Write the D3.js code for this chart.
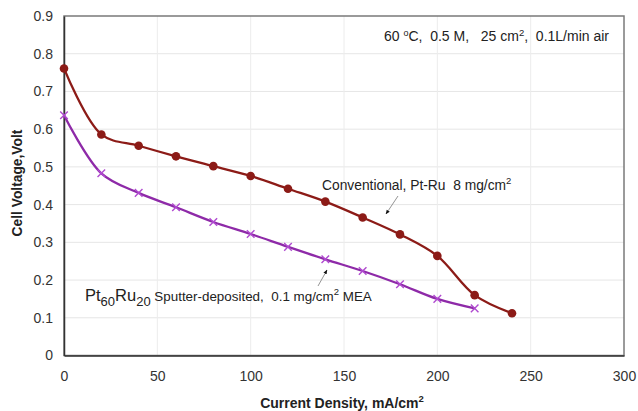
<!DOCTYPE html>
<html>
<head>
<meta charset="utf-8">
<script src="https://cdn.jsdelivr.net/npm/d3@7"></script>
<style>
  body { margin: 0; background: #fff; }
  svg { font-family: "Liberation Sans", Arial, sans-serif; }
</style>
</head>
<body>
<div id="chart"></div>
<script>
const width = 638
const height = 411

// data
const currentDensity = [0, 20, 40, 60, 80, 100, 120, 140, 160, 180, 200, 220, 240]
const conventionalVolt = [0.761, 0.586, 0.556, 0.528, 0.502, 0.476, 0.442, 0.408, 0.366, 0.321, 0.264, 0.160, 0.112]
const sputterDensity = [0, 20, 40, 60, 80, 100, 120, 140, 160, 180, 200, 220]
const sputterVolt = [0.637, 0.483, 0.431, 0.393, 0.354, 0.322, 0.288, 0.255, 0.224, 0.189, 0.150, 0.125]

const xTicks = [0, 50, 100, 150, 200, 250, 300]
const yTicks = [0, 0.1, 0.2, 0.3, 0.4, 0.5, 0.6, 0.7, 0.8, 0.9]

const conventionalColor = "#8c1b17"
const sputterColor = "#8e2aa8"
const sputterMarker = "#b04ad0"

const svg = d3.select("#chart").append("svg")
    .attr("width", width)
    .attr("height", height)

const x = d3.scaleLinear().domain([0, 300]).range([64, 624])
const y = d3.scaleLinear().domain([0, 0.9]).range([355.5, 16])

//grid lines
svg.append("g").selectAll("line.h")
    .data(yTicks.slice(1, -1))
    .join("line")
    .attr("x1", x(0)).attr("x2", x(300))
    .attr("y1", d => y(d)).attr("y2", d => y(d))
    .attr("stroke", "#e6e6e6").attr("stroke-width", 1)
svg.append("g").selectAll("line.v")
    .data(xTicks.slice(1, -1))
    .join("line")
    .attr("y1", y(0)).attr("y2", y(0.9))
    .attr("x1", d => x(d)).attr("x2", d => x(d))
    .attr("stroke", "#ececec").attr("stroke-width", 1)

//frame
svg.append("rect")
    .attr("x", x(0)).attr("y", y(0.9))
    .attr("width", x(300) - x(0)).attr("height", y(0) - y(0.9))
    .attr("fill", "none").attr("stroke", "#7a7a7a").attr("stroke-width", 1.5)

//axes
const xAxis = svg.append("g")
    .attr("transform", `translate(0,${y(0)})`)
    .call(d3.axisBottom(x).tickValues(xTicks).tickSize(0).tickPadding(16).tickFormat(d3.format("d")))
const yAxis = svg.append("g")
    .attr("transform", `translate(${x(0)},0)`)
    .call(d3.axisLeft(y).tickValues(yTicks).tickSize(0).tickPadding(11).tickFormat(d => d === 0 ? "0" : d3.format(".1f")(d)))
for (const ax of [xAxis, yAxis]) {
    ax.select(".domain").attr("stroke", "#333").attr("stroke-width", 1.5)
    ax.selectAll("text").attr("font-size", 14).attr("fill", "#333")
        .style("font-family", '"Liberation Sans", Arial, sans-serif')
}

//axis titles
const xTitle = svg.append("text")
    .attr("x", (x(0) + x(300)) / 2 - 2).attr("y", 408)
    .attr("text-anchor", "middle").attr("font-size", 14).attr("font-weight", "bold").attr("fill", "#222")
xTitle.append("tspan").text("Current Density, mA/cm")
xTitle.append("tspan").attr("dy", -6).attr("font-size", 9.5).text("2")

svg.append("text")
    .attr("transform", `translate(22,183) rotate(-90)`)
    .attr("text-anchor", "middle").attr("font-size", 13.8).attr("font-weight", "bold").attr("fill", "#222")
    .text("Cell Voltage,Volt")

//lines
const line = d3.line()
    .x(d => x(d[0])).y(d => y(d[1]))
    .curve(d3.curveCatmullRom.alpha(0.5))

const conventional = d3.zip(currentDensity, conventionalVolt)
const sputter = d3.zip(sputterDensity, sputterVolt)

svg.append("path").datum(sputter)
    .attr("d", line).attr("fill", "none")
    .attr("stroke", sputterColor).attr("stroke-width", 2.3)
svg.append("g").selectAll("path")
    .data(sputter)
    .join("path")
    .attr("d", d => {
        const cx = x(d[0]), cy = y(d[1]), r = 3.8
        return `M${cx - r},${cy - r}L${cx + r},${cy + r}M${cx - r},${cy + r}L${cx + r},${cy - r}`
    })
    .attr("stroke", sputterMarker).attr("stroke-width", 1.4)

svg.append("path").datum(conventional)
    .attr("d", line).attr("fill", "none")
    .attr("stroke", conventionalColor).attr("stroke-width", 2.3)
svg.append("g").selectAll("circle")
    .data(conventional)
    .join("circle")
    .attr("cx", d => x(d[0])).attr("cy", d => y(d[1]))
    .attr("r", 4.3).attr("fill", conventionalColor)

//condition label
const cond = svg.append("text")
    .attr("x", 609).attr("y", 41)
    .attr("text-anchor", "end").attr("font-size", 14).attr("fill", "#222")
    .attr("xml:space", "preserve")
cond.append("tspan").text("60 ")
cond.append("tspan").attr("dy", -5).attr("font-size", 9).text("o")
cond.append("tspan").attr("dy", 5).text("C,  0.5 M,   25 cm")
cond.append("tspan").attr("dy", -5).attr("font-size", 9.5).text("2")
cond.append("tspan").attr("dy", 5).text(",  0.1L/min air")

//series annotations
const convLabel = svg.append("text")
    .attr("x", 322).attr("y", 190)
    .attr("font-size", 13.8).attr("fill", "#222")
    .attr("xml:space", "preserve")
convLabel.append("tspan").text("Conventional, Pt-Ru  8 mg/cm")
convLabel.append("tspan").attr("dy", -6).attr("font-size", 9.5).text("2")

const sputLabel = svg.append("text")
    .attr("x", 85).attr("y", 301)
    .attr("font-size", 13.4).attr("fill", "#222")
    .attr("xml:space", "preserve")
sputLabel.append("tspan").attr("font-size", 16.5).text("Pt")
sputLabel.append("tspan").attr("dy", 5).attr("font-size", 13).text("60")
sputLabel.append("tspan").attr("dy", -5).attr("font-size", 16.5).text("Ru")
sputLabel.append("tspan").attr("dy", 5).attr("font-size", 13).text("20")
sputLabel.append("tspan").attr("dy", -5).text(" Sputter-deposited,  0.1 mg/cm")
sputLabel.append("tspan").attr("dy", -6).attr("font-size", 9.5).text("2")
sputLabel.append("tspan").attr("dy", 6).text(" MEA")

//arrows
svg.append("defs").append("marker")
    .attr("id", "arrow")
    .attr("viewBox", "0 0 10 10")
    .attr("refX", 9).attr("refY", 5)
    .attr("markerWidth", 5).attr("markerHeight", 5)
    .attr("orient", "auto")
    .append("path").attr("d", "M0,1L10,5L0,9Z").attr("fill", "#111")

const arrows = [
    [[398, 196], [386, 214]],
    [[318, 286], [327, 270]]
]
svg.append("g").selectAll("line")
    .data(arrows)
    .join("line")
    .attr("x1", d => d[0][0]).attr("y1", d => d[0][1])
    .attr("x2", d => d[1][0]).attr("y2", d => d[1][1])
    .attr("stroke", "#888").attr("stroke-width", 0.9)
    .attr("marker-end", "url(#arrow)")
</script>
</body>
</html>
